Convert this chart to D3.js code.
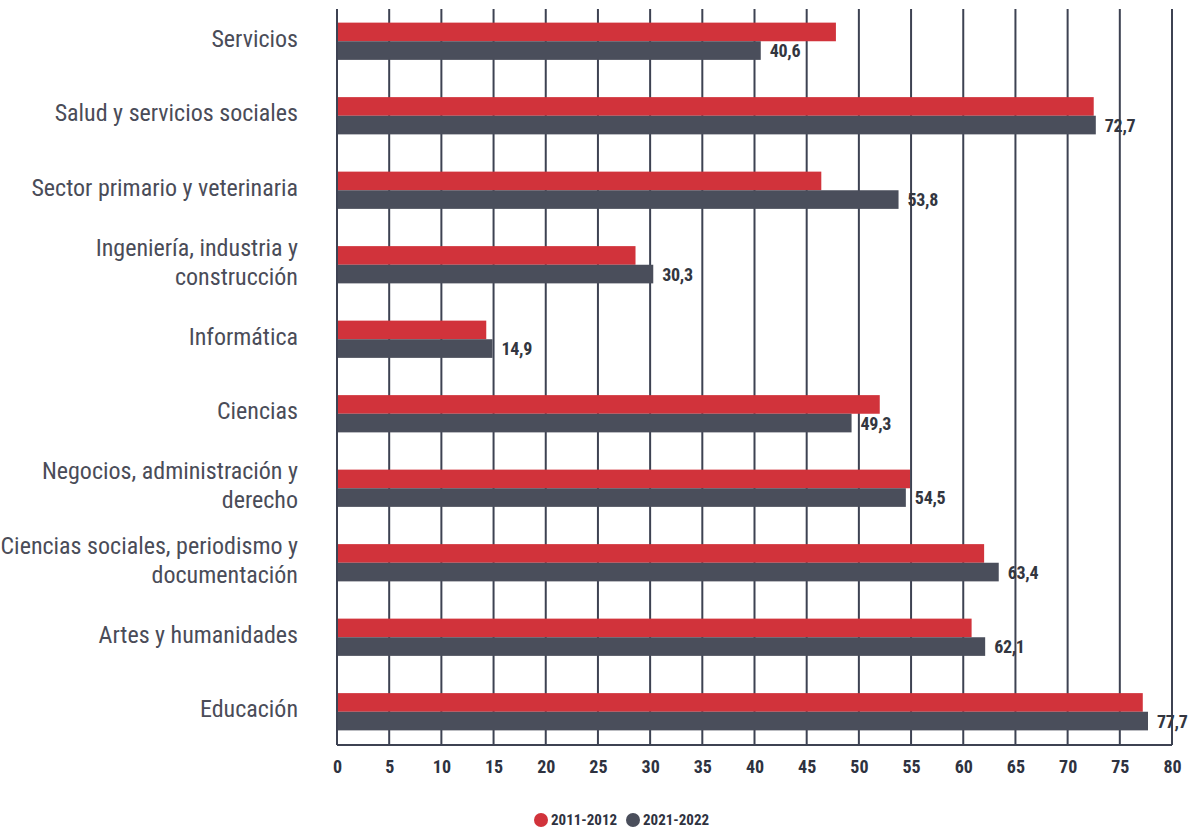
<!DOCTYPE html>
<html>
<head>
<meta charset="utf-8">
<script src="https://cdn.jsdelivr.net/npm/d3@7/dist/d3.min.js"></script>
<style>
  html, body { margin: 0; padding: 0; background: #fff; }
  svg { display: block; }
</style>
</head>
<body>
<svg id="chart" width="1193" height="832"></svg>
<script>
const categories = [
  ["Servicios"],
  ["Salud y servicios sociales"],
  ["Sector primario y veterinaria"],
  ["Ingeniería, industria y", "construcción"],
  ["Informática"],
  ["Ciencias"],
  ["Negocios, administración y", "derecho"],
  ["Ciencias sociales, periodismo y", "documentación"],
  ["Artes y humanidades"],
  ["Educación"]
];
const series2011 = [47.8, 72.5, 46.4, 28.6, 14.3, 52.0, 54.9, 62.0, 60.8, 77.2];
const series2021 = [40.6, 72.7, 53.8, 30.3, 14.9, 49.3, 54.5, 63.4, 62.1, 77.7];
const seriesNames = ["2011-2012", "2021-2022"];
const tickValues = [0,5,10,15,20,25,30,35,40,45,50,55,60,65,70,75,80];

(function () {
const colors = ["#d1333b", "#4a4e5b"];
const gridColor = "#3d4252";
const fontNarrow = "'Liberation Sans Narrow', 'Arial Narrow', 'Roboto Condensed', sans-serif";

const svg = d3.select("#chart");
const pLeft = 337, pRight = 1172, pTop = 9, pBottom = 745;

const x = d3.scaleLinear().domain([0, 80]).range([pLeft, pRight]);
const y = d3.scaleBand().domain(d3.range(categories.length)).range([4, 749]).paddingInner(0.5).paddingOuter(0.25);
const ySub = d3.scaleBand().domain([0, 1]).range([0, y.bandwidth()]);

// gridlines
svg.append("g").selectAll("line").data(tickValues).join("line")
  .attr("x1", d => x(d)).attr("x2", d => x(d))
  .attr("y1", pTop).attr("y2", pBottom)
  .attr("stroke", gridColor).attr("stroke-width", 2);

// bars
const rows = svg.append("g").selectAll("g").data(categories.map((c, i) => i)).join("g")
  .attr("transform", i => `translate(0,${y(i)})`);

rows.append("rect")
  .attr("x", x(0)).attr("y", ySub(0))
  .attr("width", i => x(series2011[i]) - x(0))
  .attr("height", ySub.bandwidth())
  .attr("fill", colors[0]);

rows.append("rect")
  .attr("x", x(0)).attr("y", ySub(1))
  .attr("width", i => x(series2021[i]) - x(0))
  .attr("height", ySub.bandwidth())
  .attr("fill", colors[1]);

// value labels
rows.append("text")
  .attr("x", i => x(series2021[i]) + 9)
  .attr("y", ySub(1) + ySub.bandwidth() / 2)
  .attr("dy", "0.36em")
  .attr("font-family", fontNarrow)
  .attr("font-weight", "bold")
  .attr("font-size", 18)
  .attr("letter-spacing", "-0.3")
  .attr("fill", "#333640")
  .text(i => d3.format(".1f")(series2021[i]).replace(".", ","));

// axes lines
svg.append("line").attr("x1", pLeft).attr("x2", pLeft).attr("y1", pTop).attr("y2", pBottom)
  .attr("stroke", gridColor).attr("stroke-width", 2);
svg.append("line").attr("x1", pLeft).attr("x2", x(80)).attr("y1", pBottom).attr("y2", pBottom)
  .attr("stroke", gridColor).attr("stroke-width", 2);

// x axis
const xAxis = d3.axisBottom(x).tickValues(tickValues).tickSize(0).tickPadding(15).tickFormat(d3.format("d"));
const gx = svg.append("g").attr("transform", `translate(0,${pBottom})`).call(xAxis);
gx.select(".domain").remove();
gx.selectAll("text")
  .attr("font-family", fontNarrow)
  .attr("font-weight", "bold")
  .attr("font-size", 18)
  .attr("fill", "#2e3240");

// category labels
const labels = svg.append("g").selectAll("text").data(categories.map((c, i) => i)).join("text")
  .attr("text-anchor", "end")
  .attr("font-family", fontNarrow)
  .attr("font-size", 24)
  .attr("fill", "#4a4c58");
labels.each(function(i) {
  const lines = categories[i];
  const cy = y(i) + y.bandwidth() / 2 - 3;
  const lh = 29;
  const t = d3.select(this);
  lines.forEach((ln, k) => {
    t.append("tspan")
      .attr("x", 298)
      .attr("y", cy + (k - (lines.length - 1) / 2) * lh)
      .attr("dy", "0.35em")
      .text(ln);
  });
});

// legend
const legendItems = [
  { name: seriesNames[0], color: colors[0], cx: 541, tx: 551 },
  { name: seriesNames[1], color: colors[1], cx: 633, tx: 643 }
];
const lg = svg.append("g").selectAll("g").data(legendItems).join("g");
lg.append("circle").attr("cx", d => d.cx).attr("cy", 820).attr("r", 7).attr("fill", d => d.color);
lg.append("text")
  .attr("x", d => d.tx).attr("y", 820).attr("dy", "0.36em")
  .attr("font-family", fontNarrow).attr("font-weight", "bold").attr("font-size", 15)
  .attr("fill", "#2e3240")
  .text(d => d.name);
})();
</script>
</body>
</html>
